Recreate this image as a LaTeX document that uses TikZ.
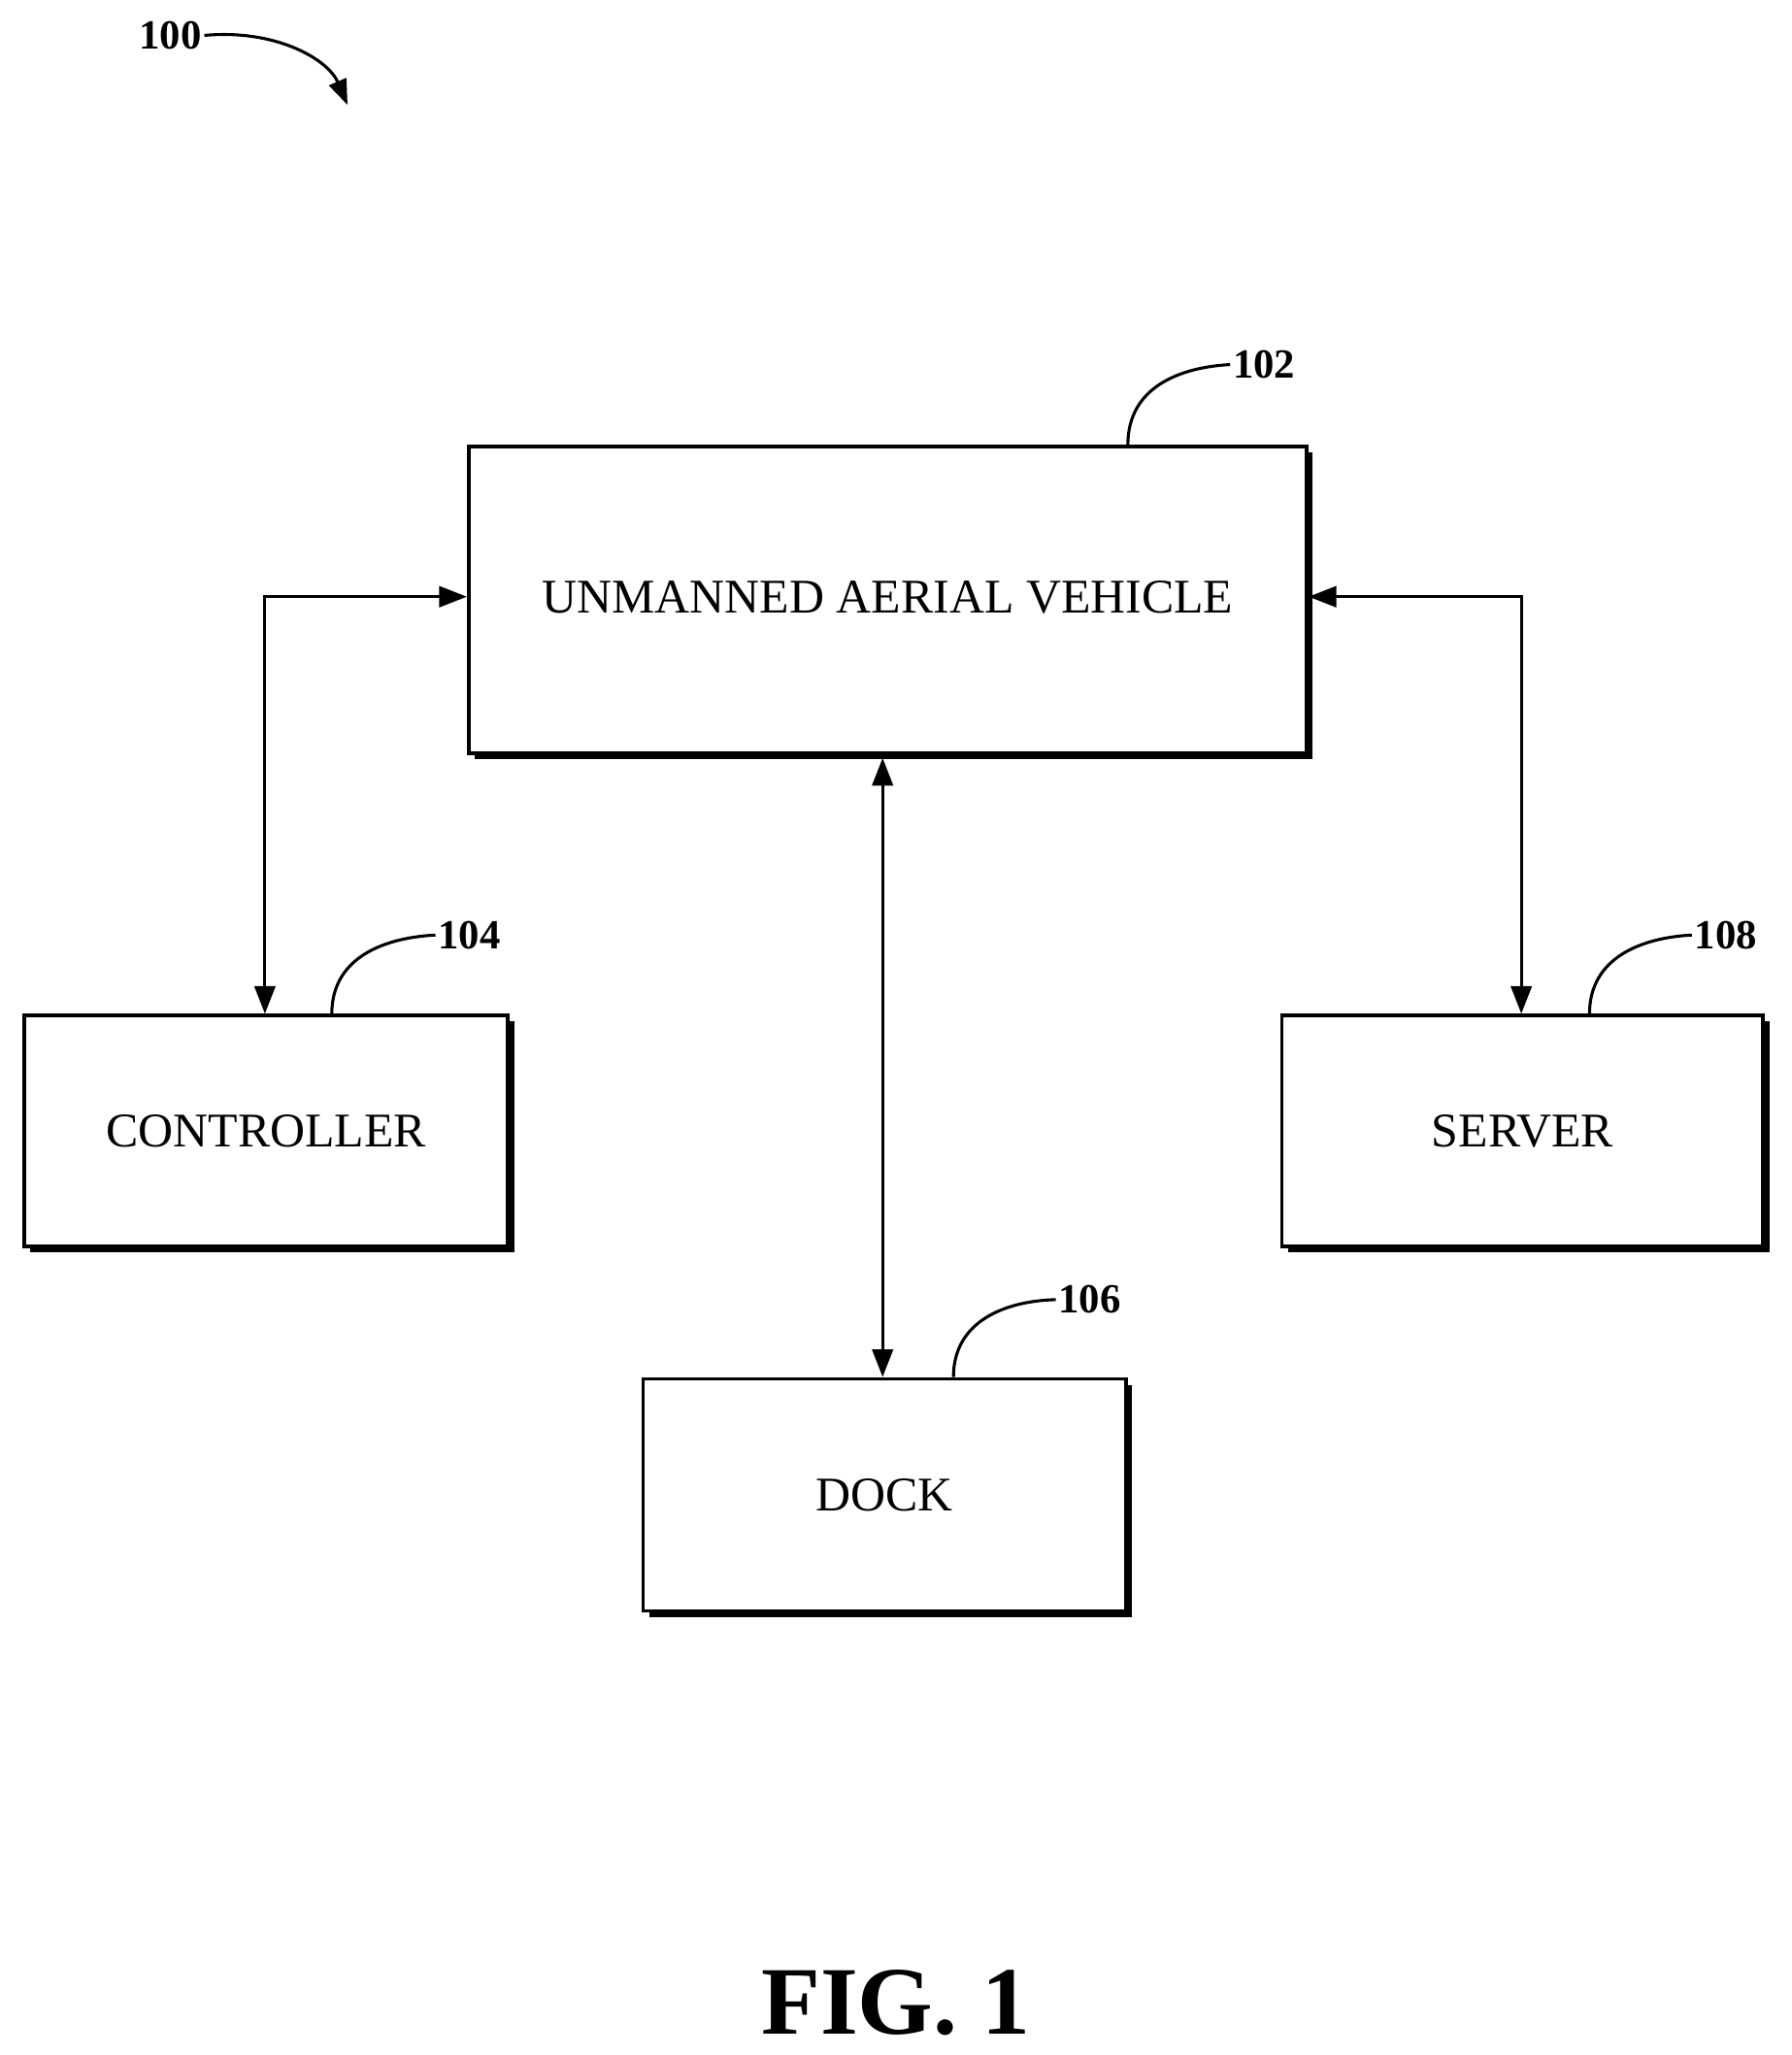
\documentclass[tikz,border=0pt]{standalone}
\usepackage{fontspec}
\setmainfont{Liberation Serif}
\usetikzlibrary{arrows.meta}
\begin{document}
\begin{tikzpicture}[x=0.02cm,y=-0.02cm,
  box/.style={draw,line width=1.6pt,fill=white,inner sep=0pt},
  lbl/.style={font=\fontsize{18}{20}\selectfont\bfseries,inner sep=1pt},
  txt/.style={font=\fontsize{21}{24}\selectfont},
  arr/.style={line width=1.3pt,{Triangle[length=12pt,width=9pt]}-{Triangle[length=12pt,width=9pt]}},
  lead/.style={line width=1.3pt}]
\useasboundingbox (0,0) rectangle (1366,1567);
\newcommand{\shbox}[5]{%
  \fill (#1+6,#2+6) rectangle (#3+6,#4+6);
  \node[box,minimum width=(#3-#1)*0.02cm,minimum height=(#4-#2)*0.02cm,anchor=north west] (#5) at (#1,#2) {};}
\shbox{356}{339}{995}{573}{uav}
\shbox{17}{773}{386}{949}{ctl}
\shbox{976}{773}{1343}{949}{srv}
\shbox{489}{1050}{857}{1227}{dock}
\node[txt] at ([yshift=1pt]uav.center) {UNMANNED AERIAL VEHICLE};
\node[txt] at (ctl.center) {CONTROLLER};
\node[txt] at (srv.center) {SERVER};
\node[txt] at (dock.center) {DOCK};
\coordinate (cl) at (202,455);
\coordinate (cr) at (1160,455);
\draw[arr] (uav.west |- cl) -- (cl) -- (ctl.north -| cl);
\draw[arr] (uav.east |- cr) -- (cr) -- (srv.north -| cr);
\draw[arr] (673,578) -- (dock.north -| 673,0);
\node[lbl,anchor=west] (l102) at (938,278) {102};
\node[lbl,anchor=west] (l104) at (332,713) {104};
\node[lbl,anchor=west] (l106) at (805,991) {106};
\node[lbl,anchor=west] (l108) at (1290,713) {108};
\node[lbl] (l100) at (130,27) {100};
\draw[lead] (860,339) .. controls (860,295) and (900,280) .. (l102.west);
\draw[lead] (253,773) .. controls (253,730) and (293,715) .. (l104.west);
\draw[lead] (727,1050) .. controls (727,1007) and (767,992) .. (l106.west);
\draw[lead] (1212,773) .. controls (1212,730) and (1252,715) .. (l108.west);
\draw[lead,-{Triangle[length=11pt,width=8pt]}] (l100.east) .. controls (210,22) and (250,45) .. (265,80);
\node[font=\fontsize{42}{46}\selectfont\bfseries] at (683,1527) {FIG. 1};
\end{tikzpicture}
\end{document}
